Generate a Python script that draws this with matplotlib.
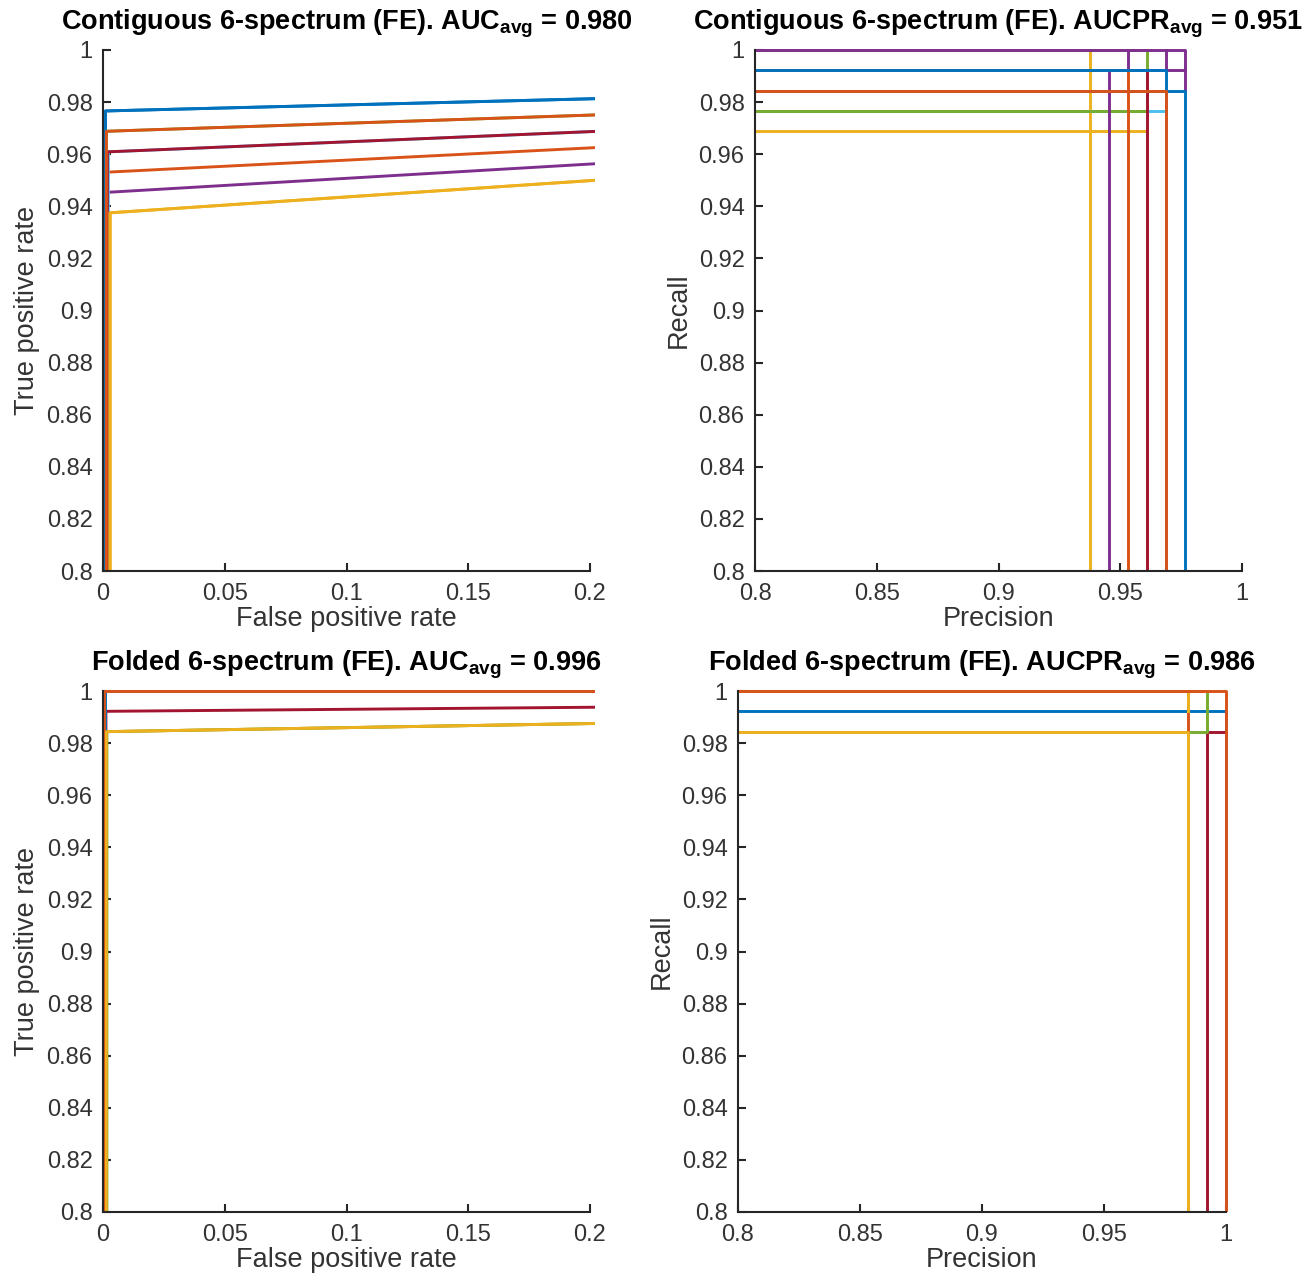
import numpy as np
import matplotlib
matplotlib.use("Agg")
import matplotlib.pyplot as plt
from matplotlib.patches import Rectangle

plt.rcParams["font.family"] = ["Liberation Sans", "DejaVu Sans"]
plt.rcParams["mathtext.fontset"] = "custom"
plt.rcParams["mathtext.rm"] = "Liberation Sans"
plt.rcParams["mathtext.bf"] = "Liberation Sans:bold"

# MATLAB default colour order, one colour per CV fold
fold_colors = ["#0072BD", "#D95319", "#EDB120", "#7E2F8E", "#77AC30",
               "#4DBEEE", "#A2142F", "#0072BD", "#D95319", "#EDB120"]

# ---------- ROC data (TPR reached before the tie block, FPR at that point) ----------
roc_contig_tpr = [0.9766, 0.9531, 0.9375, 0.9453, 0.9688, 0.9609, 0.9609, 0.9766, 0.9688, 0.9375]
roc_contig_fpr = [0.0010, 0.0016, 0.0030, 0.0006, 0.0014, 0.0022, 0.0018, 0.0010, 0.0014, 0.0028]
roc_fold_tpr = [1.0, 1.0, 0.9844, 1.0, 0.9844, 1.0, 0.9922, 1.0, 1.0, 0.9844]
roc_fold_fpr = [0.0010, 0.0004, 0.0014, 0.0006, 0.0016, 0.0008, 0.0012, 0.0010, 0.0004, 0.0014]

# ---------- PR data: (precision, recall) vertices per fold, NaN = break ----------
nan = np.nan
pr_contig = [
    # (colour index, precision list, recall list) in drawing order
    (2, [0.9375, 0.9375, 0.78], [0.78, 1.0, 1.0]),
    (9, [0.78, 0.9609, 0.9609], [0.9688, 0.9688, 0.78]),
    (5, [0.78, 0.9688, 0.9688], [0.9766, 0.9766, 0.78]),
    (4, [0.78, 0.9609, 0.9609, 0.78], [0.9766, 0.9766, 1.0, 1.0]),
    (6, [0.9609, 0.9609, 0.78], [0.78, 0.9922, 0.9922]),
    (3, [0.78, 0.9766, 0.9766, nan, 0.9453, 0.9453, 0.9766, nan,
         0.9531, 0.9531, nan, 0.9688, 0.9688],
        [1.0, 1.0, 0.9844, nan, 0.78, 0.9922, 0.9922, nan,
         0.9922, 1.0, nan, 0.9922, 1.0]),
    (1, [0.9531, 0.9531, 0.78], [0.78, 0.9922, 0.9922]),
    (7, [0.78, 0.9766, 0.9766], [0.9844, 0.9844, 0.78]),
    (0, [0.78, 0.9688, 0.9688], [0.9922, 0.9922, 0.78]),
    (8, [0.78, 0.9688, 0.9688], [0.9844, 0.9844, 0.78]),
]
pr_fold = [
    (0, [0.78, 1.0, 1.0], [0.9922, 0.9922, 0.78]),
    (6, [0.9922, 0.9922, 1.0], [0.78, 0.9844, 0.9844]),
    (4, [0.78, 0.9922, 0.9922, 0.78], [0.9844, 0.9844, 1.0, 1.0]),
    (1, [0.9844, 0.9844], [0.78, 1.0]),
    (2, [0.78, 0.9844, 0.9844], [0.9844, 0.9844, 0.78]),
    (9, [0.9844, 0.9844], [0.9922, 1.0]),
    (8, [0.78, 1.0, 1.0], [1.0, 1.0, 0.78]),
]

y_ticks = [0.8, 0.82, 0.84, 0.86, 0.88, 0.9, 0.92, 0.94, 0.96, 0.98, 1.0]
y_labels = ["0.8", "0.82", "0.84", "0.86", "0.88", "0.9", "0.92", "0.94", "0.96", "0.98", "1"]
roc_x_ticks = [0, 0.05, 0.1, 0.15, 0.2]
roc_x_labels = ["0", "0.05", "0.1", "0.15", "0.2"]
pr_x_ticks = [0.8, 0.85, 0.9, 0.95, 1.0]
pr_x_labels = ["0.8", "0.85", "0.9", "0.95", "1"]

titles = [
    r"Contiguous 6-spectrum (FE). AUC$_{\mathbf{avg}}$ = 0.980",
    r"Contiguous 6-spectrum (FE). AUCPR$_{\mathbf{avg}}$ = 0.951",
    r"Folded 6-spectrum (FE). AUC$_{\mathbf{avg}}$ = 0.996",
    r"Folded 6-spectrum (FE). AUCPR$_{\mathbf{avg}}$ = 0.986",
]

W, H = 1313, 1275
fig = plt.figure(figsize=(W / 100, H / 100), dpi=100)

# axes boxes in pixels: left, top, right, bottom
boxes = [(103, 50, 590, 571), (755, 50, 1242, 571),
         (103, 691, 590, 1212), (738, 691, 1226, 1212)]
axes = []
for l, t, r, b in boxes:
    axes.append(fig.add_axes([l / W, 1 - b / H, (r - l) / W, (b - t) / H]))

dark = "#262626"
LW = 2.1


def style(ax, xt, xl, xlab, ylab, xlim):
    ax.set_xlim(*xlim)
    ax.set_ylim(0.8, 1.0)
    ax.set_xticks(xt)
    ax.set_xticklabels(xl)
    ax.set_yticks(y_ticks)
    ax.set_yticklabels(y_labels)
    for s in ["top", "right"]:
        ax.spines[s].set_visible(False)
    for s in ["left", "bottom"]:
        ax.spines[s].set_color(dark)
        ax.spines[s].set_linewidth(1.5)
    ax.tick_params(direction="in", length=6, width=1.5, color=dark,
                   labelcolor="#333333", labelsize=17)
    ax.tick_params(axis="x", pad=8.5)
    ax.tick_params(axis="y", pad=7.5)
    ax.set_xlabel(xlab, fontsize=19.5, color="#333333", labelpad=1)
    ax.set_ylabel(ylab, fontsize=19.5, color="#333333", labelpad=5)


def clip(ax, line):
    rect = Rectangle((0, 0), 1.01, 1.01, transform=ax.transAxes)
    line.set_clip_path(rect)


def draw_roc(ax, tprs, fprs):
    for i, (tp, fp) in enumerate(zip(tprs, fprs)):
        ln, = ax.plot([fp, fp, 1.0], [0.0, tp, 1.0], color=fold_colors[i], lw=LW)
        clip(ax, ln)


def draw_pr(ax, curves):
    for ci, xs, ys in curves:
        ln, = ax.plot(xs, ys, color=fold_colors[ci], lw=LW)
        clip(ax, ln)


draw_roc(axes[0], roc_contig_tpr, roc_contig_fpr)
draw_pr(axes[1], pr_contig)
draw_roc(axes[2], roc_fold_tpr, roc_fold_fpr)
draw_pr(axes[3], pr_fold)

style(axes[0], roc_x_ticks, roc_x_labels, "False positive rate", "True positive rate", (0, 0.2))
style(axes[1], pr_x_ticks, pr_x_labels, "Precision", "Recall", (0.8, 1.0))
style(axes[2], roc_x_ticks, roc_x_labels, "False positive rate", "True positive rate", (0, 0.2))
style(axes[3], pr_x_ticks, pr_x_labels, "Precision", "Recall", (0.8, 1.0))

for ax, t in zip(axes, titles):
    ax.set_title(t, fontsize=19.5, fontweight="bold", color="black", pad=0, y=1.039)

fig.savefig("out.png", dpi=100, facecolor="white")
